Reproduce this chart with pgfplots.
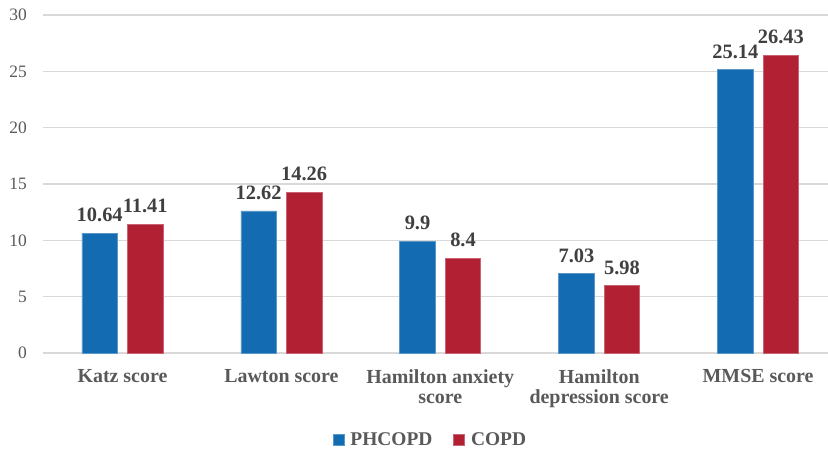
\documentclass[border=0pt]{standalone}
\usepackage{pgfplots}
\pgfplotsset{compat=1.18}
\usepackage{fontspec}
\setmainfont{Liberation Serif}
\definecolor{cblue}{RGB}{19,108,178}
\definecolor{cred}{RGB}{178,32,52}
\definecolor{gridc}{RGB}{217,217,217}
\definecolor{txt}{RGB}{89,89,89}
\definecolor{lab}{RGB}{64,64,64}
\begin{document}
\begin{tikzpicture}
\begin{axis}[
  scale only axis, width=785bp, height=338bp,
  xmin=-0.5, xmax=4.44, ymin=0, ymax=30,
  ytick={0,5,...,30},
  ymajorgrids, grid style={draw=gridc, line width=1.2bp},
  axis line style={draw=none},
  major tick length=0pt,
  xtick={0,1,2,3,4},
  xticklabels={Katz score, Lawton score, Hamilton anxiety\\score, Hamilton\\depression score, MMSE score},
  xticklabel style={align=center, font=\fontsize{20}{20.5}\selectfont\bfseries, text=txt, anchor=north, inner sep=0pt, yshift=-16bp},
  yticklabel style={font=\fontsize{17.5}{18}\selectfont, text=txt, anchor=east, inner sep=0pt, xshift=-16bp},
  /pgf/number format/assume math mode=true,
  ybar=10bp, bar width=35.5bp,
  nodes near coords,
  nodes near coords style={font=\fontsize{20.5}{21}\selectfont\bfseries, text=lab, inner sep=0pt, anchor=south, yshift=11bp},
  legend columns=2,
  legend style={draw=none, fill=none, at={(0.4936,-0.257)}, anchor=center, font=\fontsize{19.5}{20}\selectfont\bfseries, text=txt,
    /tikz/every even column/.append style={column sep=19bp}, inner sep=0pt},
  legend image code/.code={\fill[#1] (0bp,-5.5bp) rectangle (11bp,5.5bp); \path (15bp,0bp);},
  clip=false,
]
\addplot[fill=cblue, draw=cblue!70!white, line width=0.6bp] coordinates {(0,10.64) (1,12.62) (2,9.9) (3,7.03) (4,25.14)};
\addplot[fill=cred, draw=cred!70!white, line width=0.6bp] coordinates {(0,11.41) (1,14.26) (2,8.4) (3,5.98) (4,26.43)};
\legend{PHCOPD, COPD}
\end{axis}
\pgfresetboundingbox
\path (-43bp,-99bp) rectangle (785bp,353bp);
\end{tikzpicture}
\end{document}
